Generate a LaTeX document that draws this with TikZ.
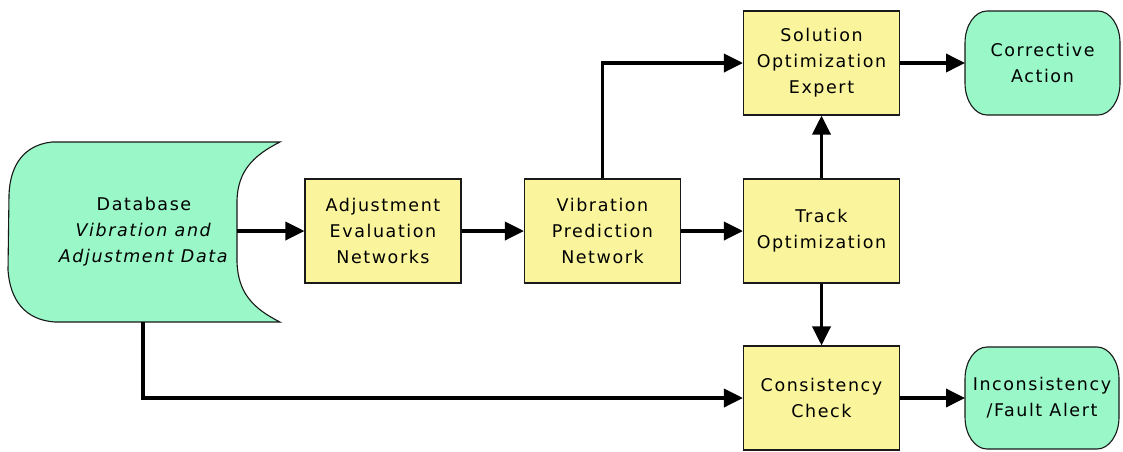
\documentclass[tikz,border=0pt]{standalone}
\usepackage{fontspec}
\newfontfamily\diafont[LetterSpace=9]{DejaVu Sans}
\usetikzlibrary{arrows.meta}
\definecolor{boxyellow}{HTML}{FAF59C}
\definecolor{termgreen}{HTML}{99F7C8}
\begin{document}
\begin{tikzpicture}[x=1pt,y=-1pt,
  every node/.style={font=\diafont\fontsize{17.5}{26}\selectfont, align=center, inner sep=0pt},
  procbox/.style={draw=black!90, line width=1.1pt, fill=boxyellow, minimum width=156pt, minimum height=104pt},
  shapeline/.style={draw=black!90, line width=1.1pt, fill=termgreen},
  flow/.style={line width=3.6pt, -{Triangle[length=19pt,width=18pt]}},
  plain/.style={line width=3.6pt}]
\useasboundingbox (0,0) rectangle (1123,451);
\fill[white] (0,0) rectangle (1123,451);

% database shape
\path[shapeline] (280,142) -- (52,142)
  .. controls (24,145) and (10,165) .. (9,195)
  -- (8,270)
  .. controls (10,300) and (25,320) .. (55,322)
  -- (280,322)
  .. controls (252,308) and (238,292) .. (237,262)
  -- (237,200)
  .. controls (238,172) and (252,156) .. (280,142) -- cycle;
\node (db) at (144,232) {Database\\\textit{Vibration and}\\\textit{Adjustment Data}};
\coordinate (dbout) at (237,231);
\coordinate (dbbot) at (143,322);

% process boxes
\node[procbox] (adj) at (383,231) {Adjustment\\Evaluation\\Networks};
\node[procbox] (vib) at (602.5,231) {Vibration\\Prediction\\Network};
\node[procbox] (track) at (821.5,231) {Track\\Optimization};
\node[procbox] (sol) at (821.5,63) {Solution\\Optimization\\Expert};
\node[procbox] (cons) at (821.5,398) {Consistency\\Check};

% terminal shapes
\path[shapeline] (987,11) -- (1098,11)
  arc[start angle=-90,end angle=0,x radius=22,y radius=32]
  -- (1120,83)
  arc[start angle=0,end angle=90,x radius=22,y radius=32]
  -- (987,115)
  arc[start angle=90,end angle=180,x radius=22,y radius=32]
  -- (965,43)
  arc[start angle=180,end angle=270,x radius=22,y radius=32] -- cycle;
\node (corr) at (1042.5,63) {Corrective\\Action};
\coordinate (corrin) at (965,63);

\path[shapeline] (987,347) -- (1097,347)
  arc[start angle=-90,end angle=0,x radius=22,y radius=32]
  -- (1119,417)
  arc[start angle=0,end angle=90,x radius=22,y radius=32]
  -- (987,449)
  arc[start angle=90,end angle=180,x radius=22,y radius=32]
  -- (965,379)
  arc[start angle=180,end angle=270,x radius=22,y radius=32] -- cycle;
\node (inc) at (1042,398) {Inconsistency\\/Fault Alert};
\coordinate (incin) at (965,398);

% connectors
\draw[flow] (dbout) -- (adj.west);
\draw[flow] (adj.east) -- (vib.west);
\draw[flow] (vib.east) -- (track.west);
\draw[flow] (vib.north) |- (sol.west);
\draw[flow] (track.north) -- (sol.south);
\draw[flow] (track.south) -- (cons.north);
\draw[flow] (sol.east) -- (corrin);
\draw[flow] (cons.east) -- (incin);
\draw[flow] (dbbot) |- (cons.west);
\end{tikzpicture}
\end{document}
